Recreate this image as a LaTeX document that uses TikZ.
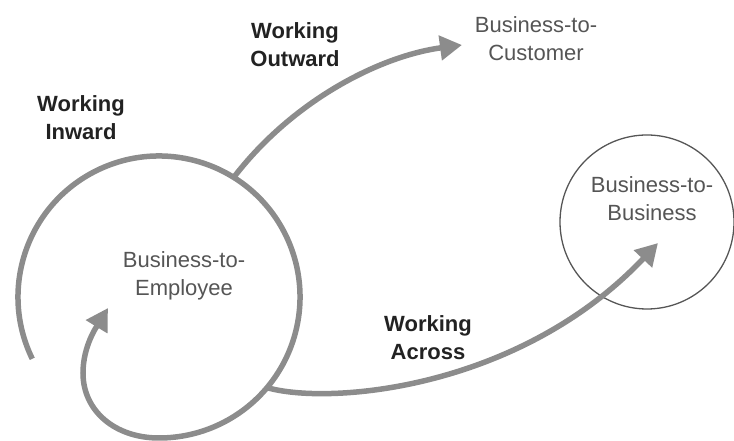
\documentclass[tikz,border=0pt]{standalone}
\usepackage{fontspec}
\setmainfont{Liberation Sans}
\usetikzlibrary{arrows.meta}
\definecolor{flow}{HTML}{8C8C8C}
\definecolor{unitgray}{HTML}{555555}
\definecolor{movegray}{HTML}{222222}
\begin{document}
\begin{tikzpicture}[x=1pt,y=1pt,
  flowline/.style={draw=flow, line width=5.5pt, -{Triangle[length=22pt,width=24pt]}},
  unitlabel/.style={text=unitgray, align=center, font=\fontsize{22}{28}\selectfont, inner sep=0pt},
  movelabel/.style={text=movegray, align=center, font=\bfseries\fontsize{22}{28}\selectfont, inner sep=0pt}]
\useasboundingbox (0,0) rectangle (734,441);

% outline of the employee ring and the partner circle
\node[circle, minimum size=282pt, inner sep=0pt, outer sep=0pt] (ring) at (159,144) {};
\node[circle, draw=unitgray, line width=1.3pt, minimum size=174pt, inner sep=0pt] (b2b) at (647,219) {};

% labels
\node[unitlabel] (emp) at (184,165) {Business-to-\\Employee};
\node[unitlabel] (cust) at (536,402) {Business-to-\\Customer};
\node[unitlabel] (bus) at (652,242) {Business-to-\\Business};
\node[movelabel] (inward) at (81,323) {Working\\Inward};
\node[movelabel] (outward) at (295,396) {Working\\Outward};
\node[movelabel] (across) at (428,103) {Working\\Across};

% arrow tips
\coordinate (curltip) at (108,133);
\coordinate (custtip) at (462,396);
\coordinate (b2btip) at (658,198);
\coordinate (curlleft) at (83,68);

% inward spiral
\draw[flowline] (ring.206) arc[start angle=206, end angle=-90, radius=141]
  .. controls +(-44,0) and +(0,-38) .. (curlleft)
  .. controls +(0,27) and +(-11,-18) .. (curltip);

% outward and across flows
\draw[flowline] (ring.58) .. controls +(59,77) and +(-82,-11) .. (custtip);
\draw[flowline] (ring.-40) .. controls +(63,-18) and +(-138,-146) .. (b2btip);
\end{tikzpicture}
\end{document}
